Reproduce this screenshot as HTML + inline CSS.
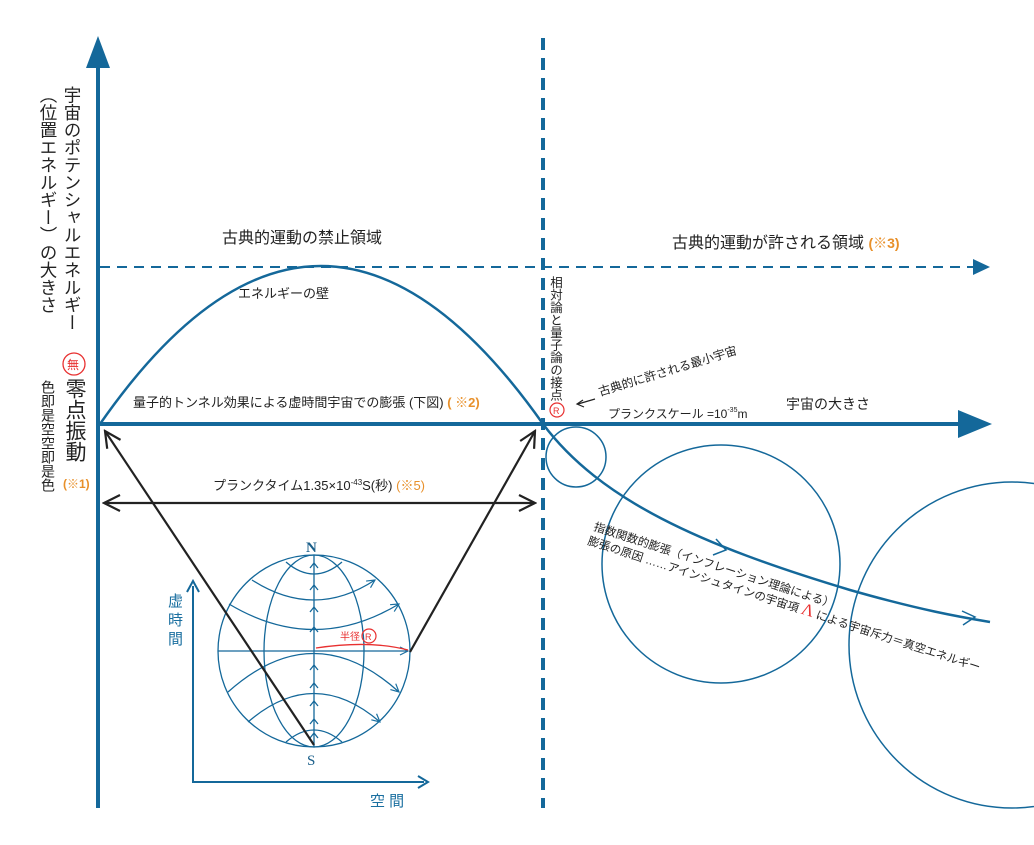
<!DOCTYPE html>
<html><head><meta charset="utf-8">
<style>
html,body{margin:0;padding:0;background:#fff;}
svg{display:block;font-family:"Liberation Sans","Noto Sans CJK JP",sans-serif;}
.v{writing-mode:vertical-rl;}
</style></head>
<body>
<svg width="1034" height="845" viewBox="0 0 1034 845" xmlns="http://www.w3.org/2000/svg">
<defs>
<marker id="op" viewBox="0 0 10 10" refX="9" refY="5" markerWidth="10" markerHeight="10" markerUnits="userSpaceOnUse" orient="auto"><path d="M1,1 L9,5 L1,9" fill="none" stroke="#1a6fa0" stroke-width="1.2"/></marker>
<marker id="bk" viewBox="0 0 20 20" refX="18" refY="10" markerWidth="20" markerHeight="20" markerUnits="userSpaceOnUse" orient="auto"><path d="M2,2 L18,10 L2,18" fill="none" stroke="#222" stroke-width="2.2"/></marker>
</defs>
<g stroke="#14689a" fill="none">
<line x1="98" y1="60" x2="98" y2="808" stroke-width="4"/>
<line x1="98" y1="424" x2="965" y2="424" stroke-width="4"/>
<line x1="543" y1="38" x2="543" y2="808" stroke-width="4" stroke-dasharray="12,8"/>
<line x1="100" y1="267" x2="975" y2="267" stroke-width="2" stroke-dasharray="10,7"/>
<path d="M100,424 Q320,108 543,424" stroke-width="2.5"/>
<circle cx="576" cy="457" r="30" stroke-width="1.5"/>
<circle cx="721" cy="564" r="119" stroke-width="1.5"/>
<circle cx="1012" cy="645" r="163" stroke-width="1.5"/>
<path d="M543,424 C600,500 700,545 850,590 C920,610 960,617 990,622" stroke-width="2.5"/>
<path d="M716,539 L726,550 L713,555 M962,611 L975,617 L963,625" stroke-width="1.5"/>
<g stroke-width="1.3">
<circle cx="314" cy="651" r="96"/>
<ellipse cx="314" cy="651" rx="50" ry="96"/>
<line x1="314" y1="555" x2="314" y2="747"/>
<line x1="218" y1="651" x2="408" y2="651" marker-end="url(#op)"/>
<path d="M286,562 Q314,586 342,562"/>
<path d="M252,580 Q314,620 375,580" marker-end="url(#op)"/>
<path d="M229,604 Q314,655 399,604" marker-end="url(#op)"/>
<path d="M228,692 Q314,615 399,692" marker-end="url(#op)"/>
<path d="M248,722 Q314,665 380,722" marker-end="url(#op)"/>
<path d="M286,742 Q314,718 342,742"/>
<path d="M310,568 l4,-5 l4,5 M310,590 l4,-5 l4,5 M310,612 l4,-5 l4,5 M310,632 l4,-5 l4,5 M310,670 l4,-5 l4,5 M310,688 l4,-5 l4,5 M310,706 l4,-5 l4,5 M310,724 l4,-5 l4,5 M310,738 l4,-5 l4,5"/>
</g>
<path d="M316,648 Q370,640 408,650" stroke="#e83030" stroke-width="1.3"/>
<path d="M193,586 L193,782 L424,782" stroke-width="2"/>
<path d="M187,592 L193,581 L199,592 M418,776 L428,782 L418,788" stroke-width="2"/>
</g>
<path d="M98,36 L86,68 L110,68 Z" fill="#14689a"/>
<path d="M992,424 L958,410 L958,438 Z" fill="#14689a"/>
<path d="M990,267 L973,259 L973,275 Z" fill="#14689a"/>
<g stroke="#222" stroke-width="2.2" fill="none">
<line x1="314" y1="745" x2="105" y2="431" marker-end="url(#bk)"/>
<line x1="410" y1="652" x2="535" y2="431" marker-end="url(#bk)"/>
<line x1="120" y1="503" x2="104" y2="503" marker-end="url(#bk)"/>
<line x1="120" y1="503" x2="535" y2="503" marker-end="url(#bk)"/>
<path d="M595,399 L578,404" stroke-width="1.2"/>
<path d="M583,400 L577,404 L584,407" stroke-width="1.2"/>
</g>
<g fill="#222">
<text x="222" y="243" font-size="16">古典的運動の禁止領域</text>
<text x="672" y="248" font-size="16">古典的運動が許される領域 <tspan fill="#e8902a" font-weight="bold" font-size="14">(※3)</tspan></text>
<text x="238" y="298" font-size="13">エネルギーの壁</text>
<text x="133" y="407" font-size="13">量子的トンネル効果による虚時間宇宙での膨張 (下図) <tspan fill="#e8902a" font-weight="bold">( ※2)</tspan></text>
<text x="213" y="490" font-size="13">プランクタイム1.35×10<tspan font-size="8" dy="-5">-43</tspan><tspan dy="5">S(秒)</tspan> <tspan fill="#e8902a">(※5)</tspan></text>
<text x="786" y="409" font-size="14">宇宙の大きさ</text>
<text x="608" y="418" font-size="12">プランクスケール =10<tspan font-size="7" dy="-6">-35</tspan><tspan dy="6">m</tspan></text>
<text x="0" y="0" font-size="12" transform="translate(600,396) rotate(-17)">古典的に許される最小宇宙</text>
<text x="0" y="0" font-size="11.5" transform="translate(593,530) rotate(18)">指数関数的膨張（インフレーション理論による）</text>
<text x="0" y="0" font-size="11.5" transform="translate(587,544) rotate(18)">膨張の原因 ……アインシュタインの宇宙項 <tspan fill="#e83030" font-family="Liberation Serif" font-size="17">Λ</tspan> による宇宙斥力＝真空エネルギー</text>
<text x="306" y="552" font-size="15" font-weight="bold" font-family="Liberation Serif" fill="#1a5f8a">N</text>
<text x="307" y="765" font-size="15" font-family="Liberation Serif" fill="#1a5f8a">S</text>
<text x="340" y="640" font-size="10" fill="#e83030">半径</text>
<circle cx="369" cy="636" r="7" fill="none" stroke="#e83030" stroke-width="1.2"/>
<text x="365" y="640" font-size="9" fill="#e83030">R</text>
<text x="370" y="806" font-size="15" fill="#1a6fa0">空 間</text>
<text x="168" y="606" font-size="15" fill="#1a6fa0">虚</text>
<text x="168" y="625" font-size="15" fill="#1a6fa0">時</text>
<text x="168" y="644" font-size="15" fill="#1a6fa0">間</text>
<circle cx="557" cy="410" r="7" fill="none" stroke="#e83030" stroke-width="1.2"/>
<text x="553" y="414" font-size="9" fill="#e83030">R</text>
<circle cx="74" cy="364" r="11" fill="none" stroke="#e83030" stroke-width="1.3"/>
<text x="67" y="369" font-size="12" fill="#e83030">無</text>
<text x="63" y="488" font-size="12" font-weight="bold" fill="#e8902a">(※1)</text>
</g>
<foreignObject x="60" y="86" width="30" height="260"><div class="v" style="font-family:'Liberation Sans','Noto Sans CJK JP',sans-serif;font-size:17.5px;color:#222;line-height:24px;">宇宙のポテンシャルエネルギー</div></foreignObject>
<foreignObject x="36" y="86" width="28" height="240"><div class="v" style="font-family:'Liberation Sans','Noto Sans CJK JP',sans-serif;font-size:17.5px;color:#222;line-height:24px;">（位置エネルギー）の大きさ</div></foreignObject>
<foreignObject x="60" y="378" width="30" height="100"><div class="v" style="font-family:'Liberation Sans','Noto Sans CJK JP',sans-serif;font-size:21px;color:#222;line-height:28px;">零点振動</div></foreignObject>
<foreignObject x="38" y="380" width="24" height="130"><div class="v" style="font-family:'Liberation Sans','Noto Sans CJK JP',sans-serif;font-size:14px;color:#222;line-height:20px;">色即是空空即是色</div></foreignObject>
<foreignObject x="545" y="276" width="24" height="130"><div class="v" style="font-family:'Liberation Sans','Noto Sans CJK JP',sans-serif;font-size:12.5px;color:#222;line-height:20px;">相対論と量子論の接点</div></foreignObject>
</svg>
</body></html>
